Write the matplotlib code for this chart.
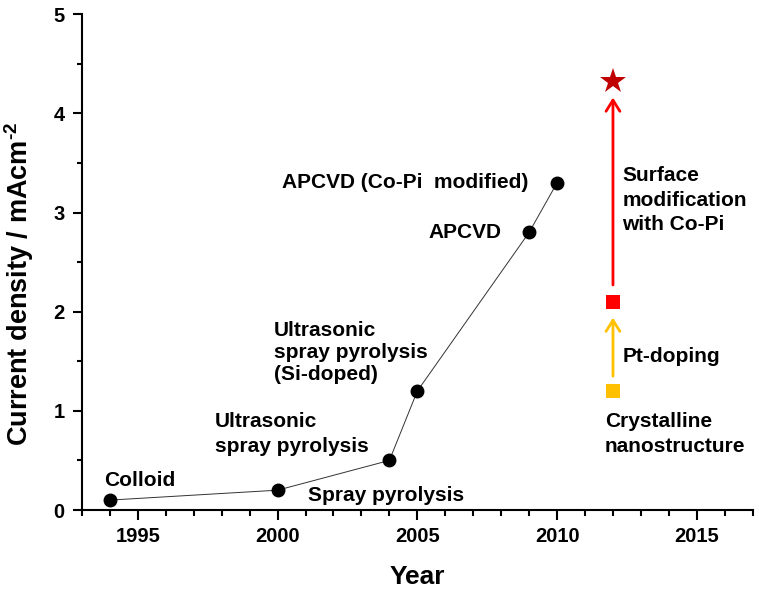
import numpy as np
import matplotlib
matplotlib.use('Agg')
import matplotlib.pyplot as plt
from matplotlib.ticker import MultipleLocator

plt.rcParams['font.family'] = ['Liberation Sans', 'DejaVu Sans']
plt.rcParams['font.weight'] = 'bold'
plt.rcParams['mathtext.fontset'] = 'custom'
plt.rcParams['mathtext.bf'] = 'Liberation Sans:bold'
plt.rcParams['mathtext.rm'] = 'Liberation Sans:bold'

# main series (black dots)
years = [1994, 2000, 2004, 2005, 2009, 2010]
current = [0.1, 0.2, 0.5, 1.2, 2.8, 3.3]

# nanostructure steps at 2012
step_year = 2012
crystalline_val = 1.2
pt_doped_val = 2.1
copi_val = 4.33

# arrows (start, end) in current density
pt_arrow = (1.35, 1.94)
copi_arrow = (2.27, 4.16)

xlim = (1993, 2017)
ylim = (0, 5)

fig = plt.figure(figsize=(7.59, 5.94), dpi=100)
ax = fig.add_axes([0.108, 0.1414, 0.8837, 0.8346])

ax.plot(years, current, color='#333333', lw=0.7, zorder=1)
ax.plot(years, current, 'o', color='black', ms=9, zorder=2)

ax.plot(step_year, crystalline_val, 's', color='#FFC000', ms=9.5, mew=0)
ax.plot(step_year, pt_doped_val, 's', color='#FF0000', ms=9.5, mew=0)
ax.plot(step_year, copi_val, '*', color='#C00000', ms=19, mew=0)

# arrows
ax.annotate('', xy=(step_year, pt_arrow[1]), xytext=(step_year, pt_arrow[0]),
            arrowprops=dict(arrowstyle='->,head_length=0.4,head_width=0.25',
                            color='#FFC000', lw=2, shrinkA=0, shrinkB=0,
                            mutation_scale=20))
ax.annotate('', xy=(step_year, copi_arrow[1]), xytext=(step_year, copi_arrow[0]),
            arrowprops=dict(arrowstyle='->,head_length=0.4,head_width=0.25',
                            color='#FF0000', lw=2, shrinkA=0, shrinkB=0,
                            mutation_scale=20))

# labels
fs = 15
ax.text(1993.79, 0.30, 'Colloid', fontsize=fs, va='center', ha='left')
ax.text(2001.07, 0.15, 'Spray pyrolysis', fontsize=fs, va='center', ha='left')
ax.text(1997.75, 0.77, 'Ultrasonic\nspray pyrolysis', fontsize=fs,
        va='center', ha='left', linespacing=1.38)
ax.text(1999.86, 1.585, 'Ultrasonic\nspray pyrolysis\n(Si-doped)', fontsize=fs,
        va='center', ha='left', linespacing=1.2)
ax.text(2008.96, 3.30, 'APCVD (Co-Pi  modified)', fontsize=fs, va='center', ha='right')
ax.text(2008.0, 2.80, 'APCVD', fontsize=fs, va='center', ha='right')
ax.text(2012.33, 3.125, 'Surface\nmodification\nwith Co-Pi', fontsize=fs,
        va='center', ha='left', linespacing=1.38)
ax.text(2012.33, 1.55, 'Pt-doping', fontsize=fs, va='center', ha='left')
ax.text(2011.71, 0.77, 'Crystalline\nnanostructure', fontsize=fs,
        va='center', ha='left', linespacing=1.38)

ax.set_xlim(*xlim)
ax.set_ylim(*ylim)
ax.xaxis.set_major_locator(MultipleLocator(5))
ax.xaxis.set_minor_locator(MultipleLocator(1))
ax.yaxis.set_major_locator(MultipleLocator(1))
ax.yaxis.set_minor_locator(MultipleLocator(0.5))

for s in ['top', 'right']:
    ax.spines[s].set_visible(False)
for s in ['left', 'bottom']:
    ax.spines[s].set_linewidth(1.5)

ax.tick_params(axis='x', which='major', length=7, width=1.5, labelsize=14.5, pad=5)
ax.tick_params(axis='x', which='minor', length=4.5, width=1.5)
ax.tick_params(axis='y', which='major', length=6.5, width=1.5, labelsize=14.5, pad=6)
ax.tick_params(axis='y', which='minor', length=3.5, width=1.5)
for lab in ax.get_xticklabels() + ax.get_yticklabels():
    lab.set_fontweight('bold')

ax.set_xlabel('Year', fontsize=19, fontweight='bold', labelpad=14)
ax.set_ylabel(r'Current density / mAcm$^{\text{-2}}$', fontsize=19.5, fontweight='bold')
ax.yaxis.set_label_coords(-0.068, 0.456)

fig.savefig('out.png', dpi=100)
